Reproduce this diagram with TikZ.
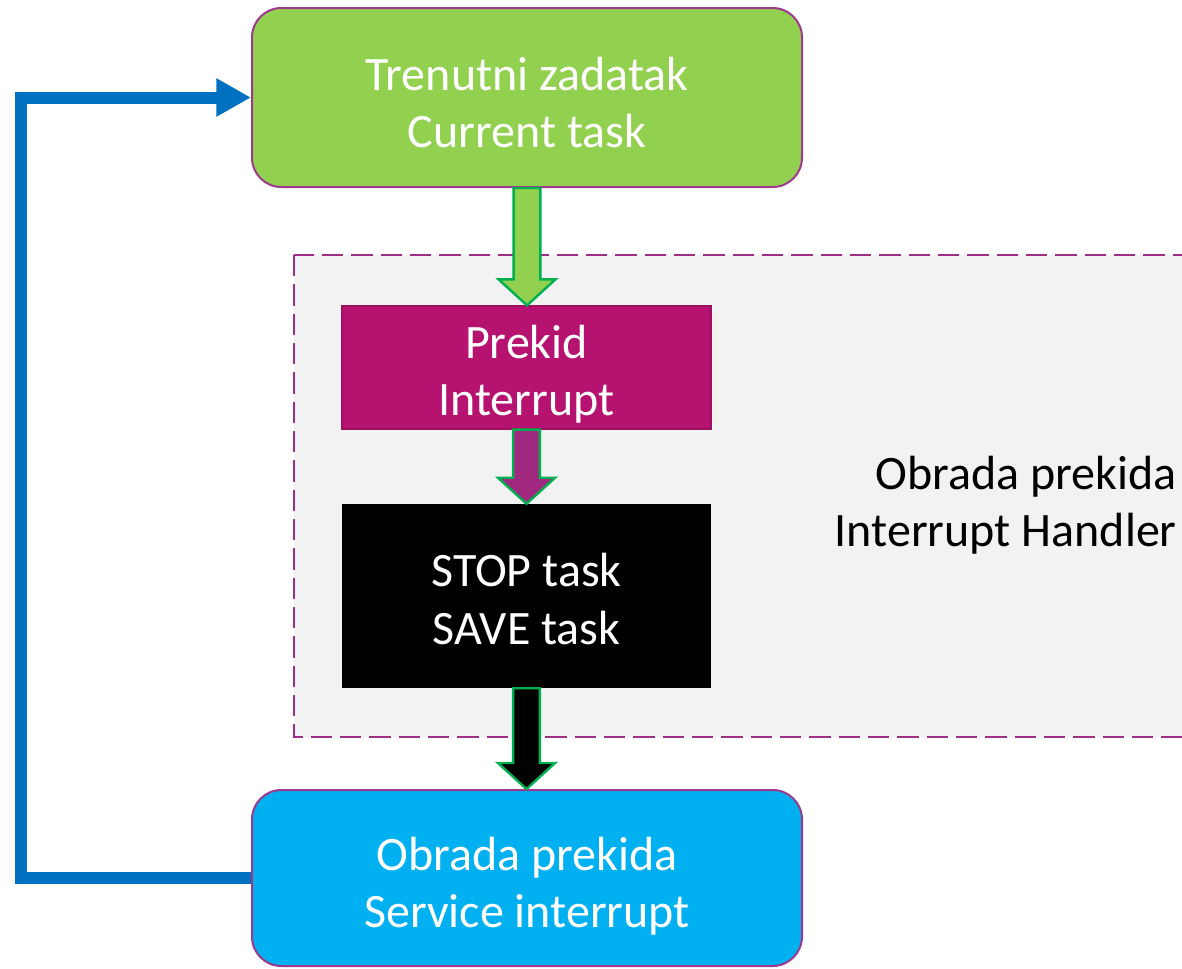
\documentclass[tikz,border=0pt]{standalone}
\usepackage{fontspec}
\setmainfont{Carlito}
\usetikzlibrary{arrows.meta,calc}
\definecolor{taskgreen}{HTML}{92D050}
\definecolor{arrgreen}{HTML}{00B050}
\definecolor{boxpurple}{HTML}{9E3A8C}
\definecolor{magentafill}{HTML}{B5136F}
\definecolor{magentaline}{HTML}{9C1060}
\definecolor{arrpurple}{HTML}{A1287F}
\definecolor{servblue}{HTML}{00B0F0}
\definecolor{loopblue}{HTML}{0070C0}
\definecolor{handlerbg}{HTML}{F2F2F2}
\definecolor{dashpurple}{HTML}{9E2F87}
\newcommand\blockarr[3]{%
  \draw[blockarrow,fill=#3] let \p1=(#1.south), \p2=(#2.north) in
    (\x1-10pt,\y1) -- (\x1+10pt,\y1) -- (\x1+10pt,\y2+19.5pt) --
    (\x1+21.4pt,\y2+19.5pt) -- (\x1,\y2) -- (\x1-21.4pt,\y2+19.5pt) --
    (\x1-10pt,\y2+19.5pt) -- cycle;}
\begin{document}
\begin{tikzpicture}[x=0.75pt,y=-0.75pt,
  boxtext/.style={text=white,align=center,font=\fontsize{36}{43}\selectfont,inner sep=0pt},
  roundbox/.style={rectangle,rounded corners=22pt,draw=boxpurple,line width=1.5pt,
    minimum width=412.5pt,inner sep=0pt},
  squarebox/.style={rectangle,minimum width=276.75pt,inner sep=0pt},
  blockarrow/.style={draw=arrgreen,line width=1.8pt,line join=miter},
  loopline/.style={draw=loopblue,line width=9pt,line join=miter,
    -{Triangle[length=26pt,width=27pt]}}]
\useasboundingbox (0,0) rectangle (1182,968);
\clip (0,0) rectangle (1182,968);
% handler region
\draw[fill=handlerbg,draw=dashpurple,line width=2.2pt,dash pattern=on 16pt off 6pt]
  (294,255) rectangle (1230,737);
\node[anchor=east,align=right,font=\fontsize{36}{43}\selectfont,inner sep=0pt]
  (handlerlabel) at (1177,505) {Obrada prekida\\Interrupt Handler};
% boxes
\node[roundbox,fill=taskgreen,minimum height=134.25pt,
  label={[boxtext,yshift=-3.75pt]center:{Trenutni zadatak\\Current task}}]
  (current) at (527,97.5) {};
\node[squarebox,fill=magentafill,draw=magentaline,line width=1pt,minimum height=92.25pt,
  label={[boxtext,yshift=-5pt]center:{Prekid\\Interrupt}}]
  (interrupt) at (526.5,367.5) {};
\node[squarebox,fill=black,minimum height=138pt,
  label={[boxtext,yshift=-2.25pt]center:{STOP task\\SAVE task}}]
  (save) at (526.5,596) {};
\node[roundbox,fill=servblue,minimum height=132pt,
  label={[boxtext,yshift=-6pt]center:{Obrada prekida\\Service interrupt}}]
  (service) at (527,878) {};
% block arrows
\blockarr{current}{interrupt}{taskgreen}
\blockarr{interrupt}{save}{arrpurple}
\blockarr{save}{service}{black}
% loop back
\draw[loopline] (service.west) -- ++(-230,0) |- (current.west);
\end{tikzpicture}
\end{document}
